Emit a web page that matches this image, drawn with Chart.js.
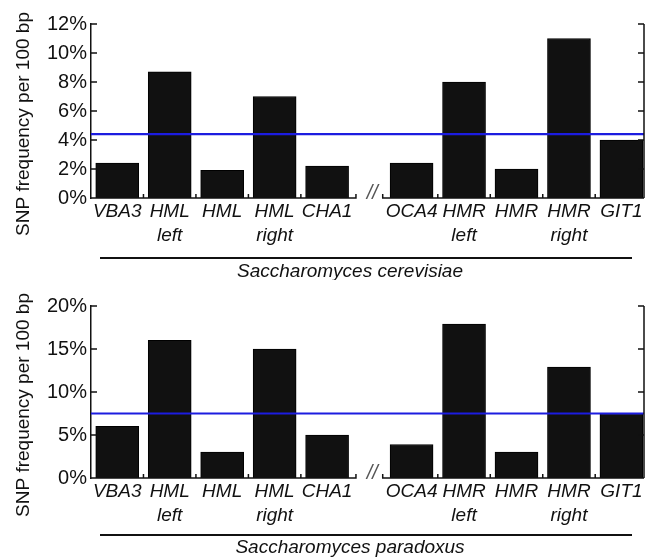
<!DOCTYPE html>
<html>
<head>
<meta charset="utf-8">
<script src="https://cdn.jsdelivr.net/npm/chart.js@4/dist/chart.umd.min.js"></script>
<style>
  body { margin: 0; background: #fff; }
  #wrap { position: relative; width: 650px; height: 557px; }
  .panel { position: absolute; left: 0; width: 650px; }
</style>
</head>
<body>
<div id="wrap">
  <div class="panel" style="top:0;height:280px"><canvas id="topChart"></canvas></div>
  <div class="panel" style="top:280px;height:277px"><canvas id="bottomChart"></canvas></div>
</div>
<script>
// loci along the chromosome, the break (//) comes after CHA1
const genes = [['VBA3'], ['HML', 'left'], ['HML'], ['HML', 'right'], ['CHA1'],
               ['OCA4'], ['HMR', 'left'], ['HMR'], ['HMR', 'right'], ['GIT1']];
const cerevisiae = [2.4, 8.7, 1.9, 7.0, 2.2, 2.4, 8.0, 2.0, 11.0, 4.0];
const paradoxus = [6.0, 16.0, 3.0, 15.0, 5.0, 3.9, 17.9, 3.0, 12.9, 7.5];
const cerevisiaeMean = 4.4;
const paradoxusMean = 7.5;
const cerevisiaeTicks = [0, 2, 4, 6, 8, 10, 12];
const paradoxusTicks = [0, 5, 10, 15, 20];
const yTitle = 'SNP frequency per 100 bp';

const breakAfter = 4;
const gap = 0.61;
const xPos = i => i + (i > breakAfter ? gap : 0);
const lastX = xPos(genes.length - 1);

const FONT = "'Liberation Sans', Arial, sans-serif";

// axes drawn by hand: inward ticks, right axis, broken baseline, species bracket
const axisDecor = {
  id: 'axisDecor',
  afterDraw(chart, args, opts) {
    const { ctx, chartArea: a, scales: { x, y } } = chart;
    ctx.save();
    ctx.strokeStyle = '#111';
    ctx.lineWidth = 1.5;
    ctx.beginPath();
    // right axis
    ctx.moveTo(a.right, a.top);
    ctx.lineTo(a.right, a.bottom);
    // inward y ticks both sides
    y.ticks.forEach(t => {
      const py = y.getPixelForValue(t.value);
      ctx.moveTo(a.left, py); ctx.lineTo(a.left + 6, py);
      ctx.moveTo(a.right, py); ctx.lineTo(a.right - 6, py);
    });
    // broken baseline
    const b = a.bottom;
    const leftEnd = x.getPixelForValue(xPos(breakAfter) + 0.55);
    const rightStart = x.getPixelForValue(xPos(breakAfter + 1) - 0.55);
    ctx.moveTo(a.left, b); ctx.lineTo(leftEnd, b); ctx.lineTo(leftEnd, b - 4);
    ctx.moveTo(rightStart, b - 4); ctx.lineTo(rightStart, b); ctx.lineTo(a.right, b);
    // small ticks between bars
    for (let i = 0; i < genes.length - 1; i++) {
      if (i === breakAfter) continue;
      const px = x.getPixelForValue(xPos(i) + 0.5);
      ctx.moveTo(px, b); ctx.lineTo(px, b - 4);
    }
    ctx.stroke();

    // break mark
    ctx.fillStyle = '#555';
    ctx.font = 'italic 20px ' + FONT;
    ctx.textAlign = 'center';
    ctx.textBaseline = 'middle';
    ctx.fillText('//', (leftEnd + rightStart) / 2 + 3, b - 5);

    // species bracket
    ctx.lineWidth = 2;
    ctx.beginPath();
    ctx.moveTo(100, b + opts.lineOffset);
    ctx.lineTo(632, b + opts.lineOffset);
    ctx.stroke();
    ctx.fillStyle = '#111';
    ctx.font = 'italic 19px ' + FONT;
    ctx.fillText(opts.species, 350, b + opts.textOffset);

    // y title, sits a little below the middle of the plot
    ctx.save();
    ctx.translate(24, (a.top + a.bottom) / 2 + 13);
    ctx.rotate(-Math.PI / 2);
    ctx.font = '19px ' + FONT;
    ctx.fillText(yTitle, 0, 0);
    ctx.restore();
    ctx.restore();
  }
};

function makeChart(id, values, mean, ticks, species, axisHeight, lineOffset, textOffset, padTop) {
  return new Chart(document.getElementById(id), {
    type: 'bar',
    data: {
      datasets: [{
        type: 'line',
        data: [{ x: -0.5, y: mean }, { x: lastX + 0.43, y: mean }],
        borderColor: '#1c1ce0',
        borderWidth: 2.2,
        pointRadius: 0,
        order: 0
      }, {
        data: values.map((v, i) => ({ x: xPos(i), y: v })),
        backgroundColor: '#111',
        borderColor: '#000',
        borderWidth: 1,
        barThickness: 43,
        order: 1
      }]
    },
    options: {
      responsive: true,
      maintainAspectRatio: false,
      animation: false,
      layout: { padding: { top: padTop, right: 6, left: 0, bottom: 0 } },
      plugins: {
        legend: { display: false },
        tooltip: { enabled: false },
        axisDecor: { species, lineOffset, textOffset }
      },
      scales: {
        x: {
          type: 'linear',
          offset: false,
          min: -0.5,
          max: lastX + 0.43,
          afterBuildTicks: s => { s.ticks = genes.map((g, i) => ({ value: xPos(i) })); },
          afterFit: s => { s.height = axisHeight; },
          grid: { display: false, drawTicks: false },
          border: { display: false },
          ticks: {
            autoSkip: false,
            maxRotation: 0,
            padding: 2,
            color: '#111',
            font: { family: FONT, size: 19, style: 'italic', lineHeight: 1.25 },
            callback: (v, i) => genes[i]
          }
        },
        y: {
          min: 0,
          max: ticks[ticks.length - 1],
          afterBuildTicks: s => { s.ticks = ticks.map(v => ({ value: v })); },
          afterFit: s => { s.width = 91; },
          grid: { display: false, drawTicks: false },
          border: { display: true, color: '#111', width: 1.5 },
          ticks: {
            padding: 4,
            color: '#111',
            font: { family: FONT, size: 20 },
            callback: v => v + '%'
          }
        }
      }
    },
    plugins: [axisDecor]
  });
}

makeChart('topChart', cerevisiae, cerevisiaeMean, cerevisiaeTicks, 'Saccharomyces cerevisiae', 82, 60, 74, 24);
makeChart('bottomChart', paradoxus, paradoxusMean, paradoxusTicks, 'Saccharomyces paradoxus', 79, 57, 70, 26);
</script>
</body>
</html>
